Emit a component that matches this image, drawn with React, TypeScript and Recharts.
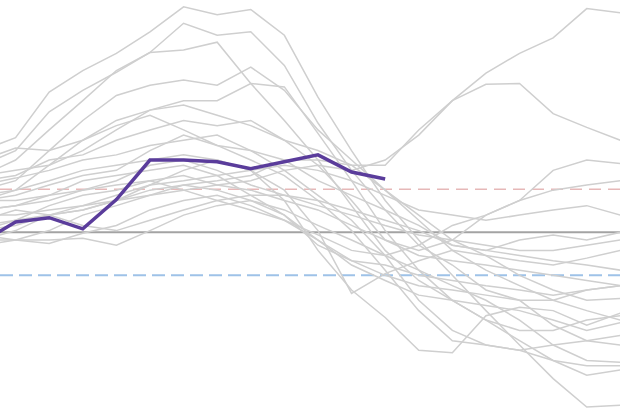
import React from "react";
import { LineChart, Line, XAxis, YAxis, ReferenceLine } from "recharts";

// month steps along the x axis (the picture is cropped, so first and last sit at the edges)
const steps = [0, 1, 2, 3, 4, 5, 6, 7, 8, 9, 10, 11, 12, 13, 14, 15, 16, 17, 18, 19];

// current year, only known up to step 12
const current = [-0.11, 0.12, 0.17, 0.04, 0.38, 0.84, 0.84, 0.82, 0.74, 0.82, 0.9, 0.7, 0.62];

// past years (grey spaghetti)
const past01 = [0.95, 1.1, 1.63, 1.88, 2.08, 2.33, 2.62, 2.53, 2.59, 2.29, 1.57, 0.95, 0.37, -0.09, -0.5, -0.91, -1.31, -1.7, -2.03, -2.01];
const past02 = [0.78, 0.95, 1.4, 1.65, 1.86, 2.09, 2.43, 2.29, 2.33, 1.94, 1.27, 0.72, 0.26, -0.15, -0.38, -0.67, -0.79, -1.08, -1.26, -1.31];
const past03 = [0.66, 0.84, 1.19, 1.53, 1.88, 2.09, 2.12, 2.21, 1.73, 1.3, 0.84, 0.31, -0.21, -0.56, -0.79, -1.02, -1.26, -1.49, -1.66, -1.6];
const past04 = [0.49, 0.6, 0.95, 1.3, 1.59, 1.71, 1.77, 1.71, 1.92, 1.65, 1.19, 0.84, 0.49, 0.14, -0.21, -0.44, -0.62, -0.79, -0.91, -1.02];
const past05 = [0.37, 0.49, 0.78, 1.07, 1.3, 1.42, 1.53, 1.53, 1.73, 1.69, 1.15, 0.6, 0.02, -0.44, -0.79, -1.02, -1.14, -1.14, -1.02, -0.97];
const past06 = [0.66, 0.72, 0.78, 0.95, 1.19, 1.42, 1.48, 1.36, 1.24, 1.07, 0.95, 0.78, 0.49, 0.2, -0.09, -0.27, -0.5, -0.67, -0.79, -0.77];
const past07 = [0.6, 0.66, 0.84, 0.9, 1.07, 1.19, 1.3, 1.24, 1.3, 1.07, 0.78, 0.37, -0.09, -0.27, -0.33, -0.38, -0.44, -0.5, -0.56, -0.62];
const past08 = [0.84, 0.98, 0.95, 1.07, 1.24, 1.36, 1.19, 1.01, 0.95, 0.84, 0.6, 0.43, 0.26, 0.08, -0.15, -0.21, -0.27, -0.33, -0.38, -0.44];
const past09 = [0.55, 0.63, 0.72, 0.84, 0.9, 1.01, 1.07, 1.13, 0.95, 0.72, 0.43, 0.14, -0.27, -0.79, -1.14, -1.31, -1.37, -1.49, -1.55, -1.55];
const past10 = [0.37, 0.43, 0.55, 0.66, 0.72, 0.95, 1.13, 1.01, 0.84, 0.66, 0.37, 0.02, -0.44, -0.91, -1.26, -1.31, -1.37, -1.31, -1.26, -1.2];
const past11 = [0.26, 0.31, 0.37, 0.49, 0.6, 0.78, 0.84, 0.72, 0.55, 0.43, 0.31, 0.2, 0.08, -0.03, -0.09, -0.15, -0.21, -0.21, -0.15, -0.09];
const past12 = [0.2, 0.2, 0.26, 0.31, 0.43, 0.55, 0.6, 0.66, 0.72, 0.78, 0.72, 0.6, 0.43, 0.26, 0.2, 0.14, 0.2, 0.26, 0.31, 0.2];
const past13 = [0.02, 0.14, 0.31, 0.43, 0.49, 0.6, 0.66, 0.55, 0.6, 0.72, 0.78, 0.72, 0.84, 1.13, 1.53, 1.85, 2.08, 2.26, 2.6, 2.55];
const past14 = [-0.09, 0.02, 0.2, 0.26, 0.37, 0.49, 0.55, 0.6, 0.66, 0.84, 0.84, 0.78, 0.78, 1.19, 1.53, 1.72, 1.73, 1.38, 1.22, 1.07];
const past15 = [0.08, 0.14, 0.2, 0.26, 0.37, 0.43, 0.49, 0.55, 0.49, 0.37, 0.26, 0.08, -0.09, -0.21, -0.09, 0.2, 0.37, 0.72, 0.84, 0.8];
const past16 = [0.14, 0.26, 0.2, 0.08, 0.02, 0.14, 0.26, 0.37, 0.43, 0.43, 0.37, 0.26, 0.14, 0.02, -0.15, -0.21, -0.09, -0.03, -0.09, 0.0];
const past17 = [-0.03, -0.09, -0.13, -0.01, 0.08, 0.26, 0.37, 0.43, 0.31, 0.14, -0.09, -0.33, -0.5, -0.62, -0.67, -0.73, -0.79, -0.79, -0.67, -0.62];
const past18 = [0.02, 0.08, 0.2, 0.31, 0.37, 0.55, 0.72, 0.84, 0.72, 0.49, 0.02, -0.71, -0.48, -0.33, -0.21, -0.27, -0.33, -0.38, -0.3, -0.21];
const past19 = [0.43, 0.49, 0.6, 0.72, 0.78, 0.84, 0.9, 0.84, 0.72, 0.37, -0.21, -0.67, -0.99, -1.37, -1.4, -0.97, -0.87, -0.91, -1.08, -0.94];
const past20 = [-0.15, -0.09, 0.02, 0.2, 0.31, 0.43, 0.55, 0.49, 0.37, 0.2, -0.09, -0.38, -0.56, -0.73, -0.79, -0.85, -0.91, -1.02, -1.14, -1.05];
const past21 = [-0.09, -0.09, -0.09, -0.07, -0.15, 0.02, 0.2, 0.31, 0.37, 0.26, 0.08, -0.09, -0.27, -0.44, -0.62, -0.79, -1.02, -1.31, -1.49, -1.51];
const past22 = [0.26, 0.31, 0.43, 0.6, 0.66, 0.72, 0.78, 0.66, 0.43, 0.2, -0.15, -0.33, -0.38, -0.5, -0.56, -0.62, -0.67, -0.73, -0.67, -0.62];
const past23 = [0.37, 0.37, 0.43, 0.49, 0.55, 0.6, 0.49, 0.37, 0.26, 0.14, -0.03, -0.21, -0.27, -0.15, 0.08, 0.2, 0.37, 0.49, 0.55, 0.6];

const pastYears = [
  past01, past02, past03, past04, past05, past06, past07, past08, past09, past10, past11, past12,
  past13, past14, past15, past16, past17, past18, past19, past20, past21, past22, past23,
];

const data = steps.map((k, i) => {
  const row: Record<string, number | undefined> = { k, current: current[i] };
  pastYears.forEach((s, j) => {
    row["p" + j] = s[i];
  });
  return row;
});

export default function App() {
  return (
    <div style={{ position: "fixed", left: 0, top: 0, width: 620, height: 413, overflow: "hidden", background: "#fff" }}>
      <LineChart width={620} height={413} data={data} margin={{ top: 0, right: 0, bottom: 0, left: 0 }}>
        <XAxis dataKey="k" type="number" domain={[0.536, 18.99]} allowDataOverflow hide />
        <YAxis type="number" domain={[-2.1, 2.7]} allowDataOverflow hide />
        <ReferenceLine y={0} stroke="#a3a3a3" strokeWidth={2} />
        <ReferenceLine y={0.5} stroke="#e6b8b8" strokeWidth={1.5} strokeDasharray="12 7" />
        <ReferenceLine y={-0.5} stroke="#9ec2e8" strokeWidth={2} strokeDasharray="13 6" />
        {pastYears.map((_, j) => (
          <Line
            key={j}
            type="linear"
            dataKey={"p" + j}
            stroke="#cfcfcf"
            strokeWidth={1.5}
            dot={false}
            activeDot={false}
            isAnimationActive={false}
          />
        ))}
        <Line
          type="linear"
          dataKey="current"
          stroke="#5a3c9b"
          strokeWidth={3.5}
          dot={false}
          activeDot={false}
          connectNulls={false}
          isAnimationActive={false}
        />
      </LineChart>
    </div>
  );
}
